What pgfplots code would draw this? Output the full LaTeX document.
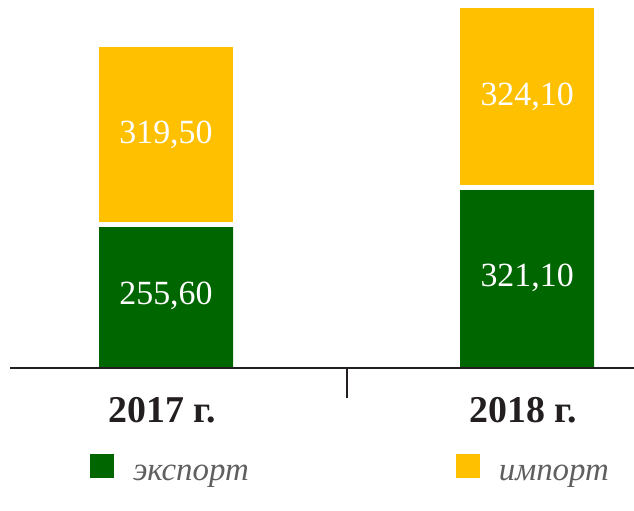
\documentclass[border=0pt]{standalone}
\usepackage{fontspec}
\setmainfont{Liberation Serif}
\usepackage{pgfplots}
\pgfplotsset{compat=1.18}
\definecolor{expc}{HTML}{006600}
\definecolor{impc}{HTML}{FFC000}
\definecolor{ink}{HTML}{231F20}
\definecolor{legc}{HTML}{5F5F5F}
\begin{document}
\begin{tikzpicture}
\useasboundingbox (-10bp,-143bp) rectangle (624bp,368bp);
\begin{axis}[
  at={(0,0)}, anchor=south west,
  scale only axis, width=624bp, height=368bp,
  ybar stacked, reverse stacked plots=false,
  xmin=-0.432, xmax=1.296, ymin=0, ymax=655,
  axis y line=none, axis x line=bottom,
  x axis line style={-, line width=2bp, draw=ink},
  axis on top,
  tick align=outside,
  xtick={0.5}, xticklabels={},
  major tick length=30bp,
  major tick style={line width=2bp, draw=ink},
  extra x ticks={0,1}, extra x tick labels={2017 г., 2018 г.},
  extra x tick style={major tick length=0pt,
    xticklabel style={anchor=base, yshift=-54bp, xshift=-4bp, font=\fontsize{38}{42}\selectfont\bfseries, text=ink}},
  point meta=rawy,
  nodes near coords={\pgfmathprintnumber[fixed,fixed zerofill,precision=2,use comma,assume math mode=true]{\pgfplotspointmeta}},
  every node near coord/.append style={anchor=center, text=white, font=\fontsize{34}{38}\selectfont},
  legend columns=2,
  legend cell align=left,
  legend style={at={(0.1282,-0.2717)}, anchor=west, draw=none, fill=none, inner sep=0pt, outer sep=0pt,
    nodes={inner sep=0pt}, font=\fontsize{33}{36}\selectfont\itshape, text=legc,
    /tikz/every odd column/.append style={column sep=19bp},
    /tikz/every even column/.append style={column sep=207bp, yshift=-7bp}},
  legend image code/.code={\fill[#1,draw=none] (0bp,-12bp) rectangle (24bp,12bp);},
]
\addplot[fill=expc, draw=none, bar width=134bp] coordinates {(0,255.60) (1,321.10)};
\addplot[fill=impc, draw=white, line width=5bp, bar width=139bp] coordinates {(0,319.50) (1,324.10)};
\legend{экспорт, импорт}
\end{axis}
\end{tikzpicture}
\end{document}
